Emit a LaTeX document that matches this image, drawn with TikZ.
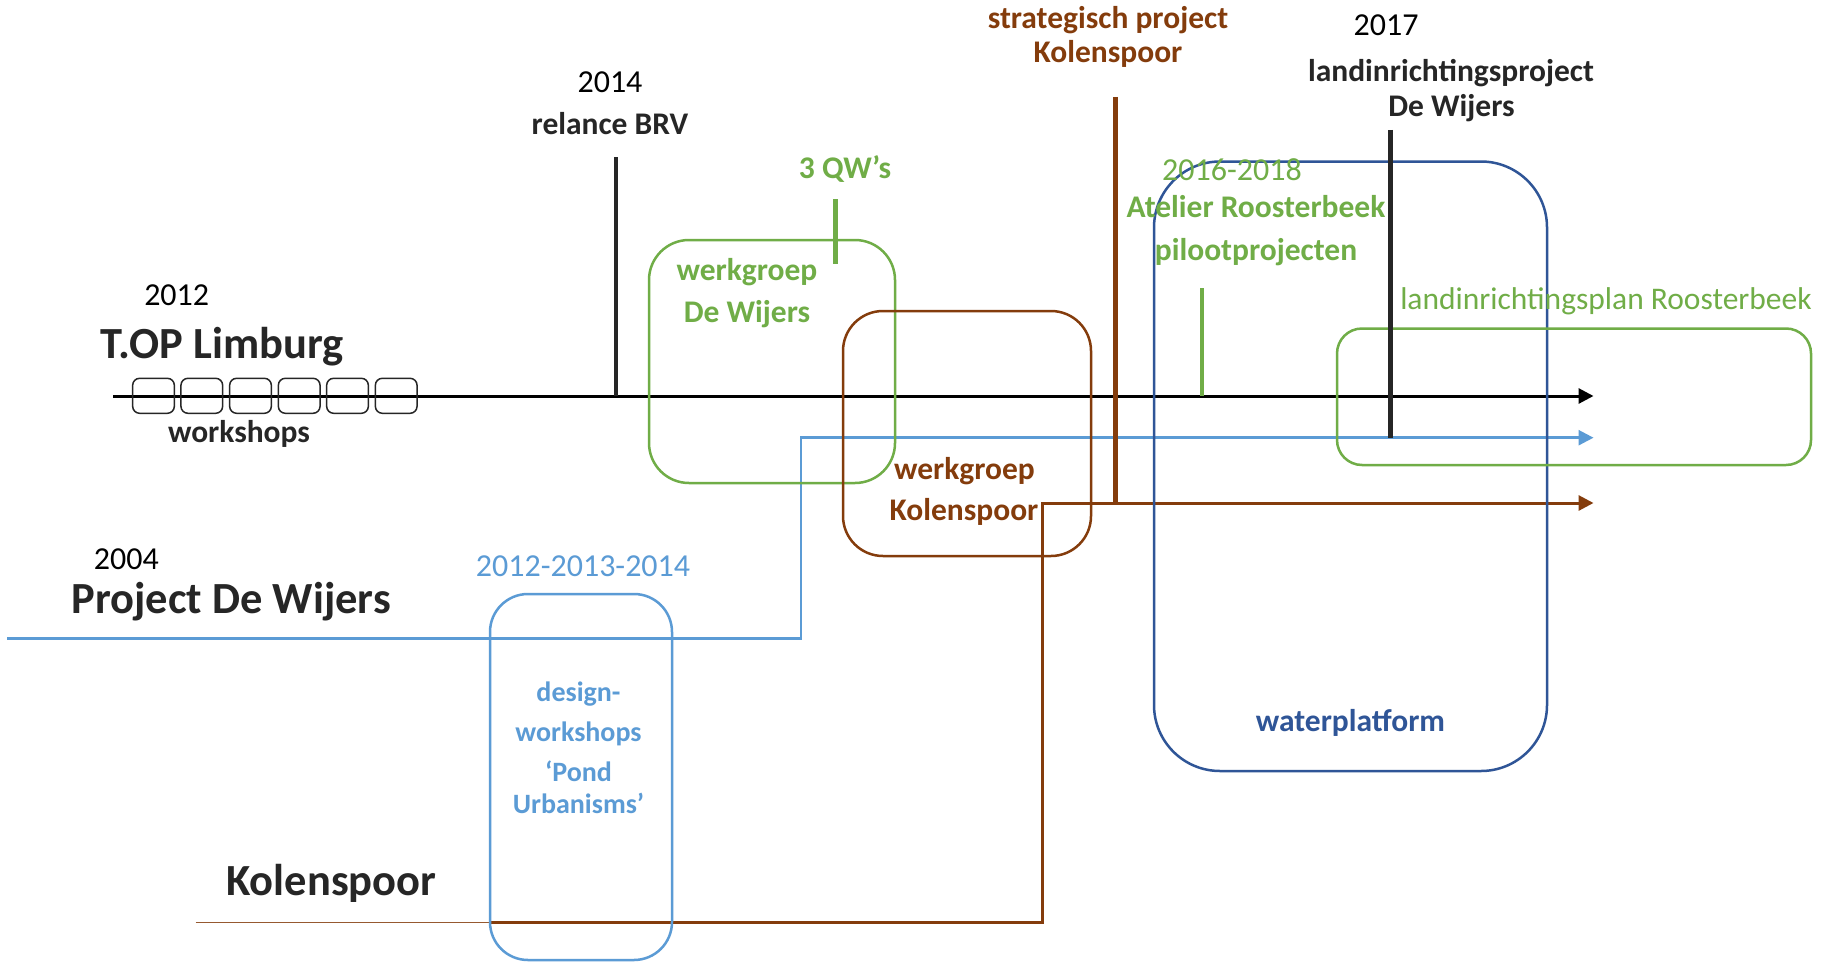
\documentclass[tikz,border=0pt]{standalone}
\usepackage{fontspec}
\setmainfont{Carlito}
\usetikzlibrary{arrows.meta}
\definecolor{cgreen}{HTML}{70AD47}
\definecolor{cbrown}{HTML}{843C0C}
\definecolor{clblue}{HTML}{5B9BD5}
\definecolor{cdblue}{HTML}{2F5597}
\definecolor{ctext}{HTML}{262626}
\begin{document}
\begin{tikzpicture}[x=1pt,y=-1pt,
  txt/.style={inner sep=0pt, anchor=base},
  yr/.style={txt, font=\fontsize{32}{37}\selectfont},
  lbl/.style={txt, font=\fontsize{31.5}{37}\selectfont\bfseries},
  sml/.style={txt, font=\fontsize{28}{33}\selectfont\bfseries},
  big/.style={txt, anchor=base west, font=\fontsize{44.5}{52}\selectfont\bfseries},
  rbox/.style={draw, line width=2.5pt, rounded corners=#1, inner sep=0pt, fill=none},
  wsbox/.style={draw=ctext, line width=1.5pt, rounded corners=7pt, inner sep=0pt,
    minimum width=41.7pt, minimum height=35pt},
  tip/.style={-{Triangle[length=15pt,width=15pt]}},
  evline/.style={line width=#1},
]
\fill[white] (0,0) rectangle (1835,963);
\useasboundingbox (0,0) rectangle (1835,963);

% ---------- timelines ----------
\coordinate (topS) at (113,396);
\coordinate (topE) at (1593.5,396);
\coordinate (pdwS) at (7,638.5);
\coordinate (pdwC1) at (801,638.5);
\coordinate (pdwC2) at (801,437.7);
\coordinate (pdwE) at (1593.5,437.7);
\coordinate (kS) at (195.6,922.7);
\coordinate (kM) at (490,922.7);
\coordinate (kC1) at (1042,922.7);
\coordinate (kC2) at (1042,503);
\coordinate (kE) at (1593.5,503);

\draw[line width=2.5pt, clblue, tip] (pdwS) -- (pdwC1) -- (pdwC2) -- (pdwE);
\draw[line width=1.5pt, cbrown!85] (kS) -- (kM);
\draw[line width=3pt, cbrown, tip] (kM) -- (kC1) -- (kC2) -- (kE);
\draw[line width=3pt, black, tip] (topS) -- (topE);

% ---------- event lines ----------
\coordinate (brvT) at (615.6,157);
\coordinate (brvB) at (615.6,396);
\coordinate (qwT) at (835.7,199);
\coordinate (qwB) at (835.7,264);
\coordinate (skT) at (1115,97);
\coordinate (skB) at (1115,503);
\coordinate (arT) at (1202,288);
\coordinate (arB) at (1202,396);
\coordinate (ldT) at (1390,130);
\coordinate (ldB) at (1390,437.7);

\draw[evline=4pt, ctext] (brvT) -- (brvB);
\draw[evline=4.5pt, cgreen] (qwT) -- (qwB);
\draw[evline=5pt, cbrown] (skT) -- (skB);
\draw[evline=4.5pt, cgreen] (arT) -- (arB);

% ---------- boxes ----------
\node[wsbox] (ws1) at (153.5,395.8) {};
\node[wsbox] (ws2) at (201.8,395.8) {};
\node[wsbox] (ws3) at (250.5,395.8) {};
\node[wsbox] (ws4) at (299.2,395.8) {};
\node[wsbox] (ws5) at (347.5,395.8) {};
\node[wsbox] (ws6) at (396.2,395.8) {};

\node[rbox=40pt, draw=cgreen, minimum width=246pt, minimum height=243pt] (wgDW) at (772,361.5) {};
\node[rbox=40pt, draw=cbrown, minimum width=248pt, minimum height=245pt] (wgK) at (967,433.5) {};
\node[rbox=38pt, draw=clblue, minimum width=182pt, minimum height=366pt] (dws) at (581,777) {};
\node[rbox=66pt, draw=cdblue, minimum width=393pt, minimum height=609.5pt] (wp) at (1350.5,466.25) {};
\node[rbox=25pt, draw=cgreen, minimum width=474pt, minimum height=136.5pt] (lrp) at (1574,396.75) {};

\draw[evline=5pt, ctext] (ldT) -- (ldB);

% ---------- texts ----------
\node[yr] (t2012) at (176.7,305) {2012};
\node[big, text=ctext] (tTOP) at (100,358) {T.OP Limburg};
\node[lbl, text=ctext] (tws) at (239,442.7) {workshops};

\node[yr] (t2014) at (610,93) {2014};
\node[lbl, text=ctext] (tbrv) at (610,135) {relance BRV};

\node[lbl, text=cgreen] (tqw) at (845,178.3) {3 QW’s};
\node[lbl, text=cgreen] (twg1) at (747,280) {werkgroep};
\node[lbl, text=cgreen] (twg2) at (747,322) {De Wijers};

\node[lbl, text=cbrown] (tk1) at (964.5,479) {werkgroep};
\node[lbl, text=cbrown] (tk2) at (964,520.7) {Kolenspoor};

\node[yr] (t2004) at (126.4,569) {2004};
\node[big, text=ctext] (tPDW) at (71.4,613) {Project De Wijers};
\node[big, text=ctext] (tKS) at (226,895) {Kolenspoor};

\node[yr, text=clblue] (t1214) at (583,576) {2012-2013-2014};
\node[sml, text=clblue] (d1) at (578.5,701.7) {design-};
\node[sml, text=clblue] (d2) at (578.5,741.7) {workshops};
\node[sml, text=clblue] (d3) at (578.5,781.7) {‘Pond};
\node[sml, text=clblue] (d4) at (578.5,813.3) {Urbanisms’};

\node[lbl, text=cbrown] (ts1) at (1108,29) {strategisch project};
\node[lbl, text=cbrown] (ts2) at (1108,63) {Kolenspoor};

\node[yr] (t2017) at (1386,36) {2017};
\node[lbl, text=ctext] (tl1) at (1451,81.7) {landinrichtingsproject};
\node[lbl, text=ctext] (tl2) at (1451.5,117) {De Wijers};

\node[yr, text=cgreen] (t1618) at (1232,180) {2016-2018};
\node[lbl, text=cgreen] (ta1) at (1256,217.3) {Atelier Roosterbeek};
\node[lbl, text=cgreen] (ta2) at (1256,260) {pilootprojecten};

\node[txt, text=cgreen, font=\fontsize{31.5}{37}\selectfont] (tlp) at (1606,309.3) {landinrichtingsplan Roosterbeek};
\node[lbl, text=cdblue] (twp) at (1350.5,731) {waterplatform};
\end{tikzpicture}
\end{document}
